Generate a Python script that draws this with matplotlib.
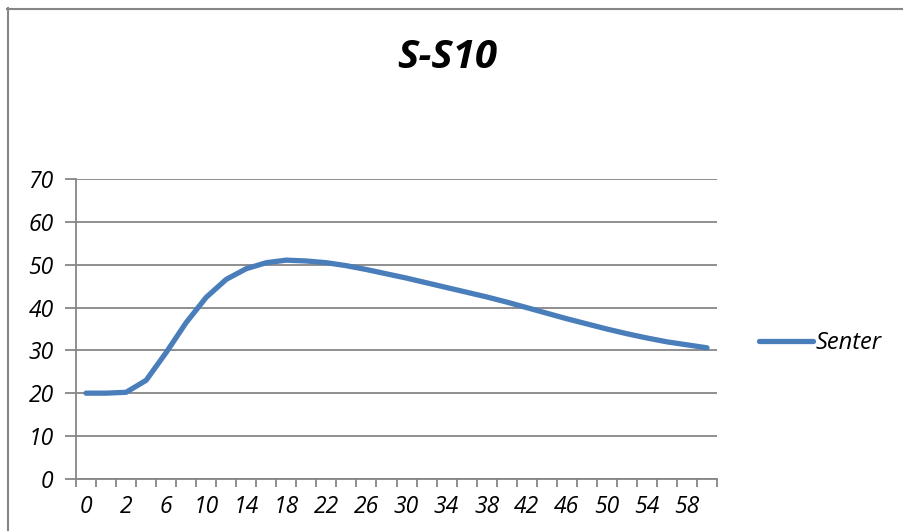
import matplotlib.pyplot as plt
from matplotlib.lines import Line2D
from matplotlib.ticker import FixedLocator

# category labels on the x axis (Excel-style category axis)
times = [0, 1, 2, 4, 6, 8, 10, 12, 14, 16, 18, 20, 22, 24, 26, 28, 30,
         32, 34, 36, 38, 40, 42, 44, 46, 48, 50, 52, 54, 56, 58, 60]
senter = [20.0, 20.0, 20.2, 23.0, 29.5, 36.5, 42.4, 46.6, 49.1, 50.5, 51.1,
          50.9, 50.5, 49.8, 48.9, 47.9, 46.9, 45.8, 44.7, 43.6, 42.5, 41.3,
          40.0, 38.7, 37.4, 36.2, 35.0, 33.9, 32.9, 32.0, 31.3, 30.6]
y_ticks = [0, 10, 20, 30, 40, 50, 60, 70]

font = "Open Sans"
grey = "#868686"
blue = "#4A7EBB"

fig = plt.figure(figsize=(9.04, 5.31), dpi=100)
ax = fig.add_axes([76 / 904, (531 - 478.7) / 531, 641 / 904, 299.4 / 531])

x = list(range(len(times)))
line, = ax.plot(x, senter, color=blue, lw=3.8, solid_capstyle="round",
                solid_joinstyle="round", label="Senter")

ax.set_xlim(-0.5, len(times) - 0.5)
ax.set_ylim(0, 70)

# labels every second category, tick marks on every category boundary
ax.set_xticks(x[::2])
ax.set_xticklabels([str(t) for t in times[::2]], fontstyle="italic",
                   fontfamily=font, fontsize=16.5)
ax.tick_params(axis="x", which="major", length=0, pad=12)
ax.xaxis.set_minor_locator(FixedLocator([i - 0.5 for i in range(len(times) + 1)]))
ax.tick_params(axis="x", which="minor", length=6, width=1.3, color=grey,
               direction="out")

ax.set_yticks(y_ticks)
ax.set_yticklabels([str(v) for v in y_ticks], fontstyle="italic",
                   fontfamily=font, fontsize=16.5)
ax.tick_params(axis="y", length=8, width=1.3, color=grey, pad=8)

ax.grid(axis="y", color=grey, lw=1.3)
ax.set_axisbelow(True)
for side in ["top", "right"]:
    ax.spines[side].set_visible(False)
for side in ["left", "bottom"]:
    ax.spines[side].set_color(grey)
    ax.spines[side].set_linewidth(1.3)

fig.text(447 / 904, 1 - 58 / 531, "S-S10", ha="center", va="center",
         fontsize=29, fontweight="bold", fontstyle="italic", fontfamily=font)

fig.legend(handles=[line], loc="center left", frameon=False,
           bbox_to_anchor=(759 / 904, 1 - 343 / 531),
           borderpad=0, borderaxespad=0,
           prop={"family": font, "style": "italic", "size": 17},
           handlelength=2.3, handletextpad=0.1)

# chart border (cropped at right and bottom)
fig.add_artist(Line2D([7.5 / 904, 7.5 / 904], [0, 1 - 8 / 531],
                      color=grey, lw=1.5, transform=fig.transFigure))
fig.add_artist(Line2D([7 / 904, 1], [1 - 8.5 / 531, 1 - 8.5 / 531],
                      color=grey, lw=1.5, transform=fig.transFigure))

fig.savefig("out.png", dpi=100)
